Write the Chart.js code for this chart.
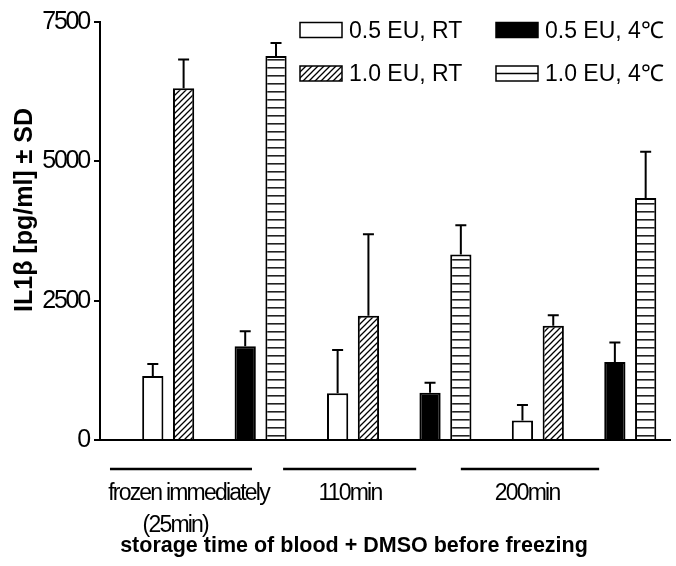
<!DOCTYPE html>
<html>
<head>
<meta charset="utf-8">
<script src="https://cdn.jsdelivr.net/npm/chart.js@4.4.0/dist/chart.umd.min.js"></script>
<style>
  html, body { margin: 0; padding: 0; background: #fff; }
  canvas { display: block; }
</style>
</head>
<body>
<canvas id="myChart" width="676" height="566"></canvas>
<script>
// groups on the x axis (each group = 6 slots: 0 EU RT, 0.5 RT, 1.0 RT, 0 EU 4C, 0.5 4C, 1.0 4C)
const groupLabels = [['frozen immediately', '(25min)'], ['110min'], ['200min']];
const seriesLabels = ['0.5 EU, RT', '1.0 EU, RT', '0.5 EU, 4℃', '1.0 EU, 4℃'];
// IL1b mean values [pg/ml], one per group
const rt05 = [1150, 840, 350];
const rt10 = [6310, 2230, 2050];
const cold05 = [1680, 850, 1400];
const cold10 = [6890, 3330, 4340];
// SD, only the upper whisker is drawn
const rt05Sd = [215, 775, 280];
const rt10Sd = [515, 1460, 190];
const cold05Sd = [270, 175, 350];
const cold10Sd = [233, 525, 830];
const yTicks = [0, 2500, 5000, 7500];

const SLOTS = 6;
const slotOffset = [1, 2, 4, 5];
const SANS = "'Liberation Sans', Arial, Helvetica, sans-serif";

function hatchPattern() {
  const c = document.createElement('canvas');
  c.width = 6; c.height = 6;
  const g = c.getContext('2d');
  g.fillStyle = '#fff'; g.fillRect(0, 0, 6, 6);
  g.strokeStyle = '#000'; g.lineWidth = 1.3;
  g.beginPath();
  g.moveTo(-1, 7); g.lineTo(7, -1);
  g.moveTo(-1, 1); g.lineTo(1, -1);
  g.moveTo(5, 7); g.lineTo(7, 5);
  g.stroke();
  return g.createPattern(c, 'repeat');
}
function stripePattern() {
  const c = document.createElement('canvas');
  c.width = 8; c.height = 8;
  const g = c.getContext('2d');
  g.fillStyle = '#fff'; g.fillRect(0, 0, 8, 8);
  g.fillStyle = '#222'; g.fillRect(0, 3, 8, 1.6);
  return g.createPattern(c, 'repeat');
}
const hatch = hatchPattern();
const stripes = stripePattern();

function points(vals, s) {
  return vals.map((v, g) => ({ x: g * SLOTS + slotOffset[s], y: v }));
}

const datasets = [
  { label: seriesLabels[0], data: points(rt05, 0), sd: rt05Sd, backgroundColor: '#fff' },
  { label: seriesLabels[1], data: points(rt10, 1), sd: rt10Sd, backgroundColor: hatch },
  { label: seriesLabels[2], data: points(cold05, 2), sd: cold05Sd, backgroundColor: '#000' },
  { label: seriesLabels[3], data: points(cold10, 3), sd: cold10Sd, backgroundColor: stripes }
];

const errorBars = {
  id: 'errorBars',
  afterDatasetsDraw(chart) {
    const ctx = chart.ctx, y = chart.scales.y;
    ctx.save();
    ctx.strokeStyle = '#000';
    ctx.lineWidth = 2;
    chart.data.datasets.forEach((ds, i) => {
      chart.getDatasetMeta(i).data.forEach((bar, j) => {
        const top = y.getPixelForValue(ds.data[j].y + ds.sd[j]);
        ctx.beginPath();
        ctx.moveTo(bar.x, bar.y);
        ctx.lineTo(bar.x, top);
        ctx.moveTo(bar.x - 5.5, top);
        ctx.lineTo(bar.x + 5.5, top);
        ctx.stroke();
      });
    });
    ctx.restore();
  }
};

// tight letter spacing for the axis tick labels, as in the original
const tightTicks = {
  id: 'tightTicks',
  beforeDraw(chart) { chart.ctx.letterSpacing = '-2.2px'; },
  beforeDatasetsDraw(chart) { chart.ctx.letterSpacing = '0px'; }
};

// group underlines and labels, axis titles, legend
const groupSpan = [[-0.39, 4.22], [5.23, 9.55], [11.0, 15.49]];
const groupText = [[2.16, 1.73], [7.40], [13.15]];
const decorations = {
  id: 'decorations',
  afterDraw(chart) {
    const ctx = chart.ctx, x = chart.scales.x;
    ctx.save();
    ctx.fillStyle = '#000';
    ctx.strokeStyle = '#000';
    ctx.lineWidth = 2.5;
    groupSpan.forEach(sp => {
      ctx.beginPath();
      ctx.moveTo(x.getPixelForValue(sp[0]), 469);
      ctx.lineTo(x.getPixelForValue(sp[1]), 469);
      ctx.stroke();
    });
    ctx.font = '23px ' + SANS;
    ctx.letterSpacing = '-1.8px';
    ctx.textAlign = 'center';
    ctx.textBaseline = 'alphabetic';
    groupLabels.forEach((lines, g) => {
      lines.forEach((t, k) => {
        ctx.fillText(t, x.getPixelForValue(groupText[g][k]), 500 + k * 32);
      });
    });
    ctx.letterSpacing = '0px';
    // x title
    ctx.font = 'bold 21.5px ' + SANS;
    ctx.fillText('storage time of blood + DMSO before freezing', 354, 552);
    // y title
    ctx.save();
    ctx.translate(32, 210);
    ctx.rotate(-Math.PI / 2);
    ctx.font = 'bold 25px ' + SANS;
    ctx.fillText('IL1β [pg/ml] ± SD', 0, 0);
    ctx.restore();
    // legend, 2 x 2
    const cols = [300, 496], rows = [30, 73.5];
    ctx.font = '23px ' + SANS;
    ctx.textAlign = 'left';
    chart.data.datasets.forEach((ds, i) => {
      const col = (i === 0 || i === 1) ? 0 : 1;
      const row = (i === 0 || i === 2) ? 0 : 1;
      const lx = cols[col], ly = rows[row];
      ctx.fillStyle = ds.backgroundColor === stripes ? '#fff' : ds.backgroundColor;
      ctx.fillRect(lx, ly - 7.5, 42, 15);
      ctx.lineWidth = 1.5;
      ctx.strokeStyle = '#000';
      if (ds.backgroundColor === stripes) {
        ctx.beginPath();
        ctx.moveTo(lx, ly);
        ctx.lineTo(lx + 42, ly);
        ctx.stroke();
      }
      ctx.strokeRect(lx, ly - 7.5, 42, 15);
      ctx.fillStyle = '#000';
      ctx.fillText(ds.label, lx + 49, ly + 7.5);
    });
    ctx.restore();
  }
};

const ctx = document.getElementById('myChart').getContext('2d');
const config = {
  type: 'bar',
  data: { datasets: datasets },
  options: {
    responsive: false,
    animation: false,
    layout: { padding: { top: 22, right: 6, left: 0, bottom: 0 } },
    plugins: { legend: { display: false }, tooltip: { enabled: false } },
    datasets: {
      bar: {
        grouped: false,
        categoryPercentage: 1,
        barPercentage: 0.69,
        borderWidth: 2,
        borderColor: '#000',
        borderSkipped: 'start'
      }
    },
    scales: {
      x: {
        type: 'linear',
        offset: false,
        min: -0.714,
        max: 17.79,
        // one slot apart, so the bar width follows the slot pitch
        afterBuildTicks: s => { s.ticks = [{ value: 0 }, { value: 1 }]; },
        ticks: { display: false },
        grid: { display: false, offset: false },
        border: { display: true, color: '#000', width: 2 },
        afterFit: s => { s.height = 126; }
      },
      y: {
        min: yTicks[0],
        max: yTicks[yTicks.length - 1],
        afterBuildTicks: s => { s.ticks = yTicks.map(v => ({ value: v })); },
        ticks: {
          padding: 5,
          color: '#000',
          font: { family: SANS, size: 25 },
          callback: v => String(v)
        },
        grid: { drawOnChartArea: false, drawTicks: true, tickLength: 6, color: '#000', lineWidth: 2 },
        border: { display: true, color: '#000', width: 2 },
        afterFit: s => { s.width = 100; }
      }
    }
  },
  plugins: [tightTicks, errorBars, decorations]
};
const myChart = new Chart(ctx, config);
</script>
</body>
</html>
